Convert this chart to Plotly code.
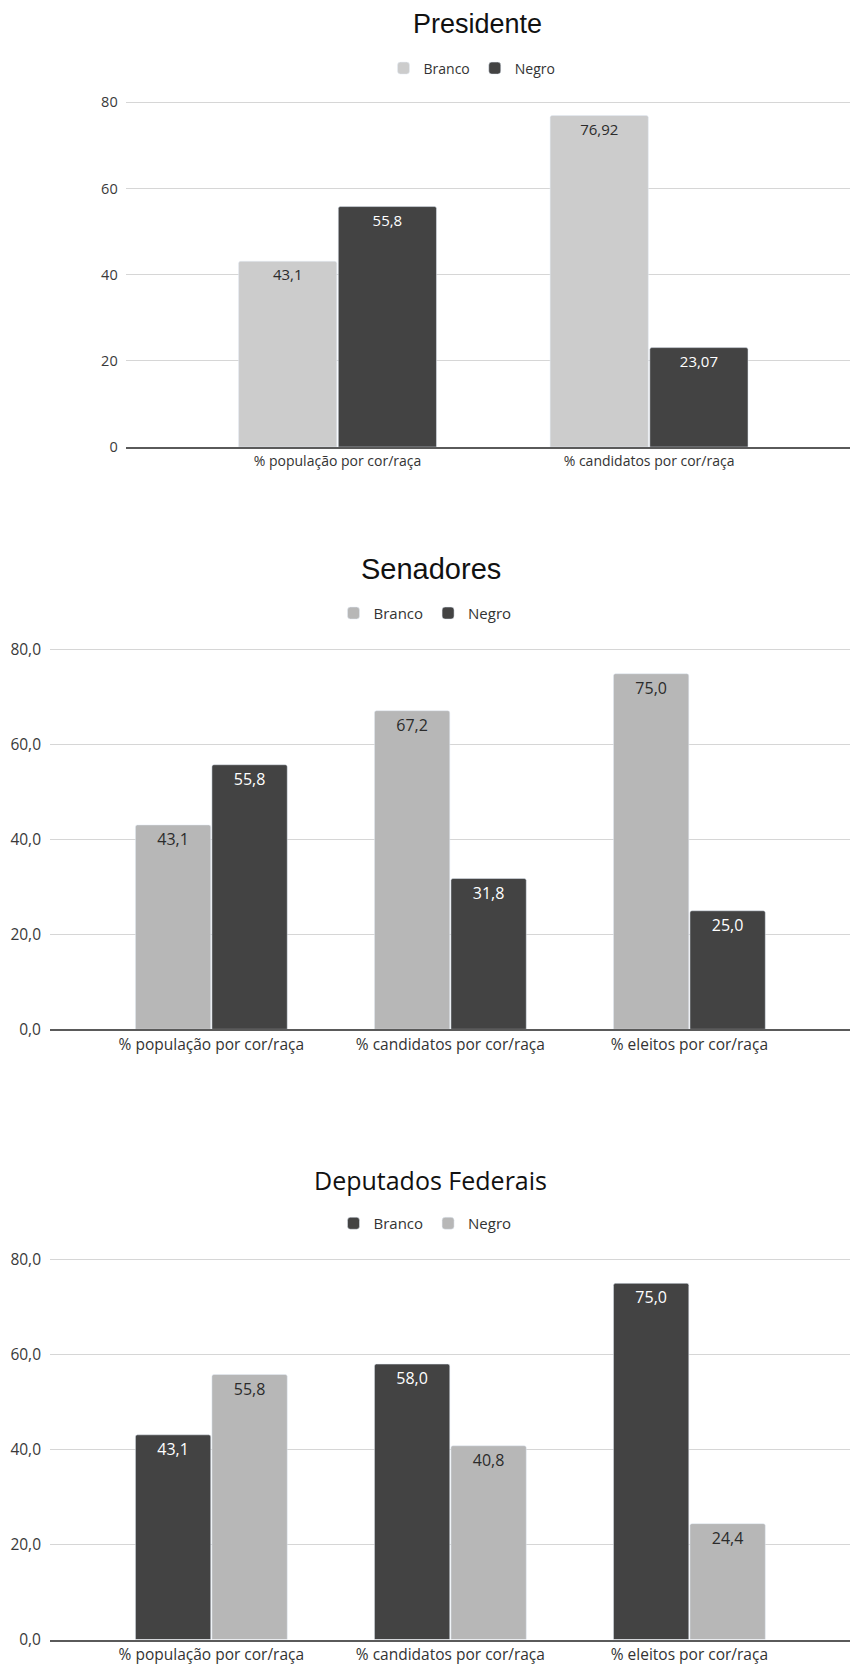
import plotly.graph_objects as go

# --- data -------------------------------------------------------------
categorias_presidente = ["% população por cor/raça", "% candidatos por cor/raça"]
branco_presidente = [43.1, 76.92]
negro_presidente = [55.8, 23.07]

categorias_legislativo = [
    "% população por cor/raça",
    "% candidatos por cor/raça",
    "% eleitos por cor/raça",
]
branco_senadores = [43.1, 67.2, 75.0]
negro_senadores = [55.8, 31.8, 25.0]

branco_deputados = [43.1, 58.0, 75.0]
negro_deputados = [55.8, 40.8, 24.4]

ticks_y = [0, 20, 40, 60, 80]

# --- page geometry (pixels) -------------------------------------------
W, H = 850, 1665
FONT = "Open Sans"
CINZA_CLARO = "#cccccc"
CINZA_MEDIO = "#b7b7b7"
CINZA_ESCURO = "#434343"
Y_MAX = 80.5  # a little headroom so the 80 gridline is drawn


def fy(px):
    return 1 - px / H


def fx(px):
    return px / W


def br_auto(v):
    return format(v, "g").replace(".", ",")


def br_1(v):
    return f"{v:.1f}".replace(".", ",")


fig = go.Figure()


def barras(cats, vals, nome, cor, cor_txt, fmt, tam, xa, ya, leg):
    fig.add_trace(
        go.Bar(
            x=cats,
            y=vals,
            name=nome,
            marker=dict(color=cor, cornerradius=2),
            text=[fmt(v) for v in vals],
            textposition="inside",
            insidetextanchor="end",
            textangle=0,
            constraintext="none",
            textfont=dict(family=FONT, size=tam, color=cor_txt),
            xaxis=xa,
            yaxis=ya,
            legend=leg,
            hoverinfo="skip",
        )
    )


# Presidente
barras(categorias_presidente, branco_presidente, "Branco", CINZA_CLARO, "#2b2b2b", br_auto, 15, "x", "y", "legend")
barras(categorias_presidente, negro_presidente, "Negro", CINZA_ESCURO, "#ffffff", br_auto, 15, "x", "y", "legend")
# Senadores
barras(categorias_legislativo, branco_senadores, "Branco", CINZA_MEDIO, "#2b2b2b", br_1, 16, "x2", "y2", "legend2")
barras(categorias_legislativo, negro_senadores, "Negro", CINZA_ESCURO, "#ffffff", br_1, 16, "x2", "y2", "legend2")
# Deputados Federais
barras(categorias_legislativo, branco_deputados, "Branco", CINZA_ESCURO, "#ffffff", br_1, 16, "x3", "y3", "legend3")
barras(categorias_legislativo, negro_deputados, "Negro", CINZA_MEDIO, "#2b2b2b", br_1, 16, "x3", "y3", "legend3")


def eixo_x(ancora, dom_esq, rng, tam):
    return dict(
        anchor=ancora,
        domain=[fx(dom_esq), 1],
        range=rng,
        type="category",
        showline=True,
        linecolor="#5a5a5a",
        linewidth=2,
        showgrid=False,
        zeroline=False,
        ticks="",
        tickfont=dict(family=FONT, size=tam, color="#333333"),
        fixedrange=True,
    )


def eixo_y(ancora, px_zero, px_80, fmt, tam, standoff):
    px_por_unidade = (px_zero - px_80) / 80
    px_topo = px_zero - Y_MAX * px_por_unidade
    return dict(
        anchor=ancora,
        domain=[fy(px_zero), fy(px_topo)],
        range=[0, Y_MAX],
        tickvals=ticks_y,
        tickformat=fmt,
        showgrid=True,
        gridcolor="#d6d6d6",
        gridwidth=1,
        zeroline=False,
        showline=False,
        ticks="",
        ticklabelstandoff=standoff,
        tickfont=dict(family=FONT, size=tam, color="#3a3a3a"),
        fixedrange=True,
    )


def legenda(xc, yc, tam):
    return dict(
        orientation="h",
        x=fx(xc),
        xanchor="center",
        y=fy(yc),
        yanchor="middle",
        font=dict(family=FONT, size=tam, color="#333333"),
        bgcolor="rgba(0,0,0,0)",
        itemclick=False,
        itemdoubleclick=False,
    )


titulos = [
    ("Presidente", 477, 23.7, "Liberation Sans", 27),
    ("Senadores", 431, 569, "Liberation Sans", 29),
    ("Deputados Federais", 430.5, 1179.6, FONT, 25),
]

fig.update_layout(
    width=W,
    height=H,
    autosize=False,
    margin=dict(l=0, r=0, t=0, b=0, autoexpand=False),
    paper_bgcolor="white",
    plot_bgcolor="white",
    separators=",.",
    barmode="group",
    bargap=0.36,
    bargroupgap=0.015,
    showlegend=True,
    xaxis=eixo_x("y", 125.7, [-0.68, 1.645], 14),
    yaxis=eixo_y("x", 447, 102.3, "d", 14.5, 7),
    xaxis2=eixo_x("y2", 50, [-0.675, 2.672], 15.5),
    yaxis2=eixo_y("x2", 1029.3, 650, ".1f", 15.5, 8),
    xaxis3=eixo_x("y3", 50, [-0.675, 2.672], 15.5),
    yaxis3=eixo_y("x3", 1639.5, 1259.6, ".1f", 15.5, 8),
    legend=legenda(472, 68.5, 14),
    legend2=legenda(425, 613.3, 15),
    legend3=legenda(425, 1223.5, 15),
    annotations=[
        dict(
            text=t,
            x=fx(x),
            y=fy(y),
            xref="paper",
            yref="paper",
            xanchor="center",
            yanchor="middle",
            showarrow=False,
            font=dict(family=f, size=s, color="#111111"),
        )
        for t, x, y, f, s in titulos
    ],
)

fig.update_traces(cliponaxis=False)

fig.write_html("out.html")
